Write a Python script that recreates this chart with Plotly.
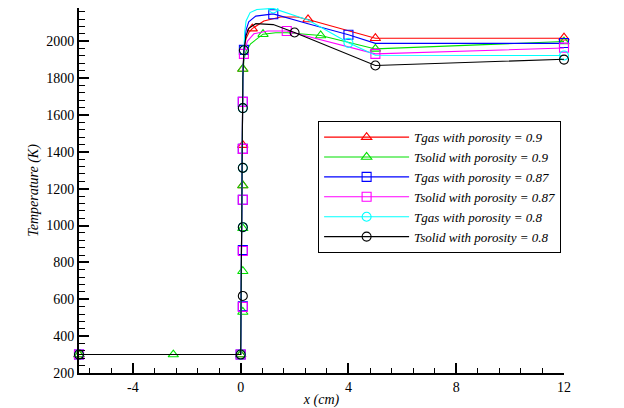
import plotly.graph_objects as go

# ---- data ----
names = ["Tgas with porosity = 0.9", "Tsolid with porosity = 0.9",
         "Tgas with porosity = 0.87", "Tsolid with porosity = 0.87",
         "Tgas with porosity = 0.8", "Tsolid with porosity = 0.8"]
colors = ["#ff0000", "#00e000", "#0000ff", "#ff00ff", "#00ffff", "#000000"]
symbols = ["triangle-up-open", "triangle-up-open", "square-open", "square-open",
           "circle-open", "circle-open"]

# curve points (x in cm, T in K)
red_x = [-6, 0, 0.08, 0.12, 0.2, 0.31, 0.43, 0.86, 1.48, 2.1, 2.5, 5, 12]
red_T = [300, 300, 1800, 1953, 2015, 2049, 2068, 2109, 2131, 2131, 2118, 2016, 2016]
green_x = [-6, 0, 0.08, 0.12, 0.2, 0.37, 0.83, 1.3, 1.73, 2.97, 5, 12]
green_T = [300, 300, 1800, 1900, 1945, 1986, 2038, 2046, 2046, 2031, 1958, 1998]
blue_x = [-6, 0, 0.08, 0.12, 0.2, 0.3, 0.56, 1.21, 2.5, 4, 5, 12]
blue_T = [300, 300, 1800, 1953, 2060, 2105, 2136, 2148, 2095, 2035, 1988, 1988]
magenta_x = [-6, 0, 0.08, 0.12, 0.25, 0.49, 1.0, 1.71, 5, 12]
magenta_T = [300, 300, 1800, 1931, 2000, 2040, 2055, 2055, 1931, 1963]
cyan_x = [-6, 0, 0.08, 0.12, 0.15, 0.2, 0.35, 0.6, 1.21, 2.5, 4, 5, 12]
cyan_T = [300, 300, 1800, 1951, 2050, 2110, 2155, 2172, 2178, 2115, 1991, 1924, 1922]
black_x = [-6, 0, 0.08, 0.12, 0.2, 0.3, 0.56, 1.21, 2.0, 5, 12]
black_T = [300, 300, 1800, 1951, 2030, 2070, 2095, 2090, 2047, 1868, 1902]

# symbol positions
red_mx = [-6, 0, 0.08, 0.08, 0.08, 0.43, 2.5, 5, 12]
red_mT = [300, 300, 1217, 1436, 1849, 2068, 2118, 2016, 2019]
green_mx = [-6, -2.5, 0, 0.08, 0.08, 0.08, 0.08, 0.08, 0.83, 2.97, 5, 12]
green_mT = [300, 300, 300, 531, 752, 985, 1217, 1849, 2038, 2031, 1958, 1998]
blue_mx = [-6, 0, 0.08, 0.08, 0.08, 0.08, 0.08, 0.12, 1.21, 4, 12]
blue_mT = [300, 300, 562, 867, 1140, 1416, 1671, 1953, 2146, 2035, 1990]
magenta_mx = [-6, 0, 0.08, 0.08, 0.08, 0.08, 0.08, 0.12, 1.71, 5, 12]
magenta_mT = [300, 300, 558, 862, 1140, 1416, 1671, 1931, 2055, 1931, 1965]
cyan_mx = [-6, 0, 0.08, 0.08, 0.08, 0.12, 1.21, 4, 12]
cyan_mT = [300, 300, 991, 1313, 1637, 1951, 2177, 1991, 1922]
black_mx = [-6, 0, 0.08, 0.08, 0.08, 0.08, 0.12, 2.0, 5, 12]
black_mT = [300, 300, 618, 991, 1313, 1637, 1951, 2047, 1868, 1900]

x_tickvals = [-4, 0, 4, 8, 12]
x_ticktext = ["-4", "0", "4", "8", "12"]
y_tickvals = [200, 400, 600, 800, 1000, 1200, 1400, 1600, 1800, 2000]
y_ticktext = ["200", "400", "600", "800", "1000", "1200", "1400", "1600", "1800", "2000"]

curves = [(red_x, red_T), (green_x, green_T), (blue_x, blue_T),
          (magenta_x, magenta_T), (cyan_x, cyan_T), (black_x, black_T)]
marks = [(red_mx, red_mT), (green_mx, green_mT), (blue_mx, blue_mT),
         (magenta_mx, magenta_mT), (cyan_mx, cyan_mT), (black_mx, black_mT)]

SERIF = "Liberation Serif, Tinos, DejaVu Serif, Noto Serif, serif"

fig = go.Figure()
for i in range(6):
    cx, cT = curves[i]
    mx, mT = marks[i]
    fig.add_trace(go.Scatter(x=cx, y=cT, mode="lines", showlegend=False,
                             legendgroup=str(i), hoverinfo="skip",
                             line=dict(color=colors[i], width=1.1)))
    fig.add_trace(go.Scatter(x=mx, y=mT, mode="markers", showlegend=False,
                             legendgroup=str(i), cliponaxis=False,
                             marker=dict(symbol=symbols[i], size=9, color=colors[i],
                                         line=dict(width=1.1, color=colors[i]))))
for i in range(6):
    fig.add_trace(go.Scatter(x=[None], y=[None], mode="lines+markers", name=names[i],
                             legendgroup=str(i),
                             line=dict(color=colors[i], width=1.1),
                             marker=dict(symbol=symbols[i], size=9, color=colors[i],
                                         line=dict(width=1.1, color=colors[i]))))

# the page body adds an 8px offset; margins compensate for it
fig.update_layout(
    width=624, height=408,
    margin=dict(l=71, r=68, t=0, b=43),
    paper_bgcolor="white", plot_bgcolor="white",
    font=dict(family=SERIF, size=14, color="black"),
    showlegend=True,
    legend=dict(x=0.493, y=0.69, xanchor="left", yanchor="top",
                bgcolor="white", bordercolor="black", borderwidth=1,
                itemwidth=85,
                font=dict(family=SERIF, size=13, style="italic", color="black"),
                tracegroupgap=0),
)
fig.update_xaxes(range=[-6, 12], tickvals=x_tickvals, ticktext=x_ticktext,
                 ticks="inside", ticklen=10, automargin=False,
                 tickwidth=2, tickcolor="black", showline=True, linewidth=2,
                 linecolor="black", showgrid=False, zeroline=False,
                 tickfont=dict(family=SERIF, size=14, color="black"),
                 minor=dict(dtick=0.8, tick0=0, ticks="inside", ticklen=5,
                            tickwidth=1, tickcolor="black"),
                 title=dict(text="x (cm)", standoff=0,
                            font=dict(family=SERIF, size=14, style="italic")))
fig.update_yaxes(range=[200, 2180], tickvals=y_tickvals, ticktext=y_ticktext,
                 ticks="inside", ticklen=10, automargin=False,
                 tickwidth=2, tickcolor="black", showline=True, linewidth=2,
                 linecolor="black", showgrid=False, zeroline=False,
                 tickfont=dict(family=SERIF, size=14, color="black"),
                 minor=dict(dtick=40, tick0=0, ticks="inside", ticklen=6,
                            tickwidth=1, tickcolor="black"),
                 title=dict(text="Temperature (K)", standoff=4,
                            font=dict(family=SERIF, size=14, style="italic")))

fig.write_html("out.html")
